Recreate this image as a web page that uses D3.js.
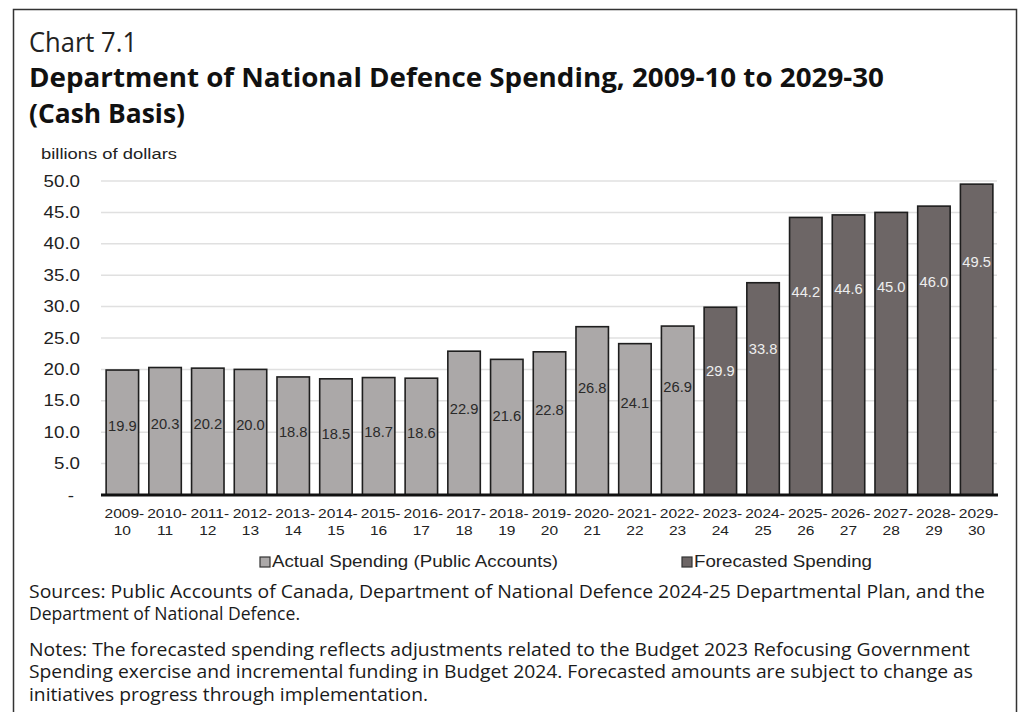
<!DOCTYPE html>
<html><head><meta charset="utf-8">
<script src="https://cdn.jsdelivr.net/npm/d3@7"></script>
<style>
html,body{margin:0;padding:0;background:#fff;}
svg{display:block;}
</style></head>
<body>
<svg id="c" width="1019" height="712"></svg>
<script>
const categories = ["2009-10","2010-11","2011-12","2012-13","2013-14","2014-15","2015-16","2016-17","2017-18","2018-19","2019-20","2020-21","2021-22","2022-23","2023-24","2024-25","2025-26","2026-27","2027-28","2028-29","2029-30"];
const values = [19.9,20.3,20.2,20.0,18.8,18.5,18.7,18.6,22.9,21.6,22.8,26.8,24.1,26.9,29.9,33.8,44.2,44.6,45.0,46.0,49.5];
const seriesOf = ["actual","actual","actual","actual","actual","actual","actual","actual","actual","actual","actual","actual","actual","actual","forecast","forecast","forecast","forecast","forecast","forecast","forecast"];
const seriesNames = ["Actual Spending (Public Accounts)","Forecasted Spending"];
const yTicks = [0,5,10,15,20,25,30,35,40,45,50];

const colors = {actual:"#aba8a8", forecast:"#6d6666"};
const labelColors = {actual:"#2a2a2a", forecast:"#eeeeee"};

const svg = d3.select("#c");
const ARIAL = "'Liberation Sans', Arial, sans-serif";
const SEGOE = "'Open Sans', 'Noto Sans', sans-serif";

function stretch(sel, f){
  sel.each(function(){
    const w = this.getComputedTextLength();
    d3.select(this).attr("textLength", w*f).attr("lengthAdjust","spacingAndGlyphs");
  });
}

// frame
svg.append("path").attr("d","M13.5,712 L13.5,9.5 L1016.5,9.5 L1016.5,712")
  .attr("fill","none").attr("stroke","#333").attr("stroke-width",1.5);

// titles
svg.append("text").attr("x",29).attr("y",52).attr("font-family",SEGOE)
  .attr("font-size",27).attr("fill","#222").text("Chart 7.1")
  .attr("textLength",108).attr("lengthAdjust","spacingAndGlyphs");
svg.append("text").attr("x",29).attr("y",87).attr("font-family",SEGOE)
  .attr("font-size",27).attr("font-weight","bold").attr("fill","#111")
  .text("Department of National Defence Spending, 2009-10 to 2029-30")
  .attr("textLength",855).attr("lengthAdjust","spacingAndGlyphs");
svg.append("text").attr("x",29).attr("y",123).attr("font-family",SEGOE)
  .attr("font-size",27).attr("font-weight","bold").attr("fill","#111")
  .text("(Cash Basis)")
  .attr("textLength",156).attr("lengthAdjust","spacingAndGlyphs");

svg.append("text").attr("x",41).attr("y",159).attr("font-family",ARIAL)
  .attr("font-size",15.5).attr("fill","#222").text("billions of dollars")
  .attr("textLength",136).attr("lengthAdjust","spacingAndGlyphs");

// scales
const x = d3.scaleBand().domain(categories).range([101,998]).paddingInner(0.24).paddingOuter(0.12);
const y = d3.scaleLinear().domain([0,50]).range([495,181]);

// grid
svg.append("g").selectAll("line").data(yTicks.filter(d=>d>0)).join("line")
  .attr("x1",101).attr("x2",997).attr("y1",d=>y(d)).attr("y2",d=>y(d))
  .attr("stroke","#e0e0e0").attr("stroke-width",1.5);

// y axis
const yAxis = d3.axisLeft(y).tickValues(yTicks).tickSize(0).tickPadding(0)
  .tickFormat(d=> d===0 ? "-" : d3.format(".1f")(d));
const yg = svg.append("g").attr("transform","translate(80,0)").call(yAxis);
yg.select(".domain").remove();
yg.selectAll("text").attr("font-family",ARIAL).attr("font-size",16).attr("fill","#222");
yg.selectAll(".tick").filter(d=>d===0).select("text").attr("dx",-6);
stretch(yg.selectAll("text"), 1.17);

// bars
const data = categories.map((c,i)=>({cat:c, v:values[i], s:seriesOf[i]}));
svg.append("g").selectAll("rect").data(data).join("rect")
  .attr("x",d=>x(d.cat)).attr("width",x.bandwidth())
  .attr("y",d=>y(d.v)).attr("height",d=>y(0)-y(d.v))
  .attr("fill",d=>colors[d.s]).attr("stroke","#1e1e1e").attr("stroke-width",1.6);

// baseline
svg.append("line").attr("x1",101).attr("x2",998).attr("y1",y(0)).attr("y2",y(0))
  .attr("stroke","#111").attr("stroke-width",3);

// value labels
const vl = svg.append("g").selectAll("text").data(data).join("text")
  .attr("x",d=>x(d.cat)+x.bandwidth()/2)
  .attr("y",d=>y(d.v*0.88-6.5)+5)
  .attr("text-anchor","middle").attr("font-family",ARIAL).attr("font-size",14)
  .attr("fill",d=>labelColors[d.s]).text(d=>d3.format(".1f")(d.v));
stretch(vl, 1.05);

// x axis labels
const xg = svg.append("g");
categories.forEach(c=>{
  const [a,b] = c.split("-");
  const cx = x(c)+x.bandwidth()/2;
  const t1 = xg.append("text").attr("x",cx+2).attr("y",518).attr("text-anchor","middle")
    .attr("font-family",ARIAL).attr("font-size",13.5).attr("fill","#222").text(a+"-");
  const t2 = xg.append("text").attr("x",cx).attr("y",535).attr("text-anchor","middle")
    .attr("font-family",ARIAL).attr("font-size",13.5).attr("fill","#222").text(b);
  stretch(t1,1.15); stretch(t2,1.15);
});

// legend
const legX = [260,682];
const legW = [286,178];
seriesNames.forEach((n,i)=>{
  const key = i===0?"actual":"forecast";
  svg.append("rect").attr("x",legX[i]).attr("y",557).attr("width",10).attr("height",10)
    .attr("fill",colors[key]).attr("stroke","#333").attr("stroke-width",1.2);
  svg.append("text").attr("x",legX[i]+12).attr("y",567).attr("font-family",ARIAL)
    .attr("font-size",17).attr("fill","#222").text(n)
    .attr("textLength",legW[i]).attr("lengthAdjust","spacingAndGlyphs");
});

// notes
const notes = [
  ["Sources: Public Accounts of Canada, Department of National Defence 2024-25 Departmental Plan, and the",598,956],
  ["Department of National Defence.",620,271],
  ["Notes: The forecasted spending reflects adjustments related to the Budget 2023 Refocusing Government",656,941],
  ["Spending exercise and incremental funding in Budget 2024. Forecasted amounts are subject to change as",678,944],
  ["initiatives progress through implementation.",701,399]
];
notes.forEach(([t,yy,w])=>{
  svg.append("text").attr("x",29).attr("y",yy).attr("font-family",SEGOE)
    .attr("font-size",18).attr("fill","#1a1a1a").text(t)
    .attr("textLength",w).attr("lengthAdjust","spacingAndGlyphs");
});
</script>
</body></html>
